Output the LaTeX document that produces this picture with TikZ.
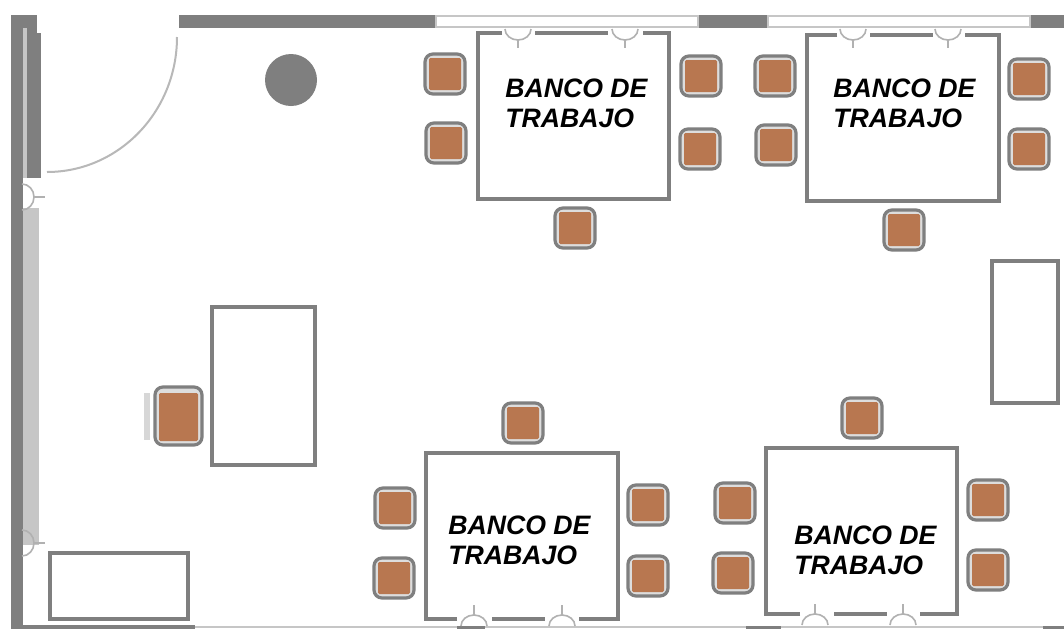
\documentclass[tikz,border=0pt]{standalone}
\usepackage{fontspec}
\setmainfont{Liberation Sans}
\definecolor{wallc}{HTML}{7F7F7F}
\definecolor{lightc}{HTML}{C6C6C6}
\definecolor{brownc}{HTML}{B87750}
\tikzset{
  wallfill/.style={fill=wallc,draw=none},
  glassfill/.style={fill=lightc,draw=none},
  windowbox/.style={fill=white,draw=lightc,line width=1.5},
  furn/.style={draw=wallc,line width=2.6,fill=white},
  benchline/.style={draw=wallc,line width=3.2},
  outlet/.style={draw=lightc!70!wallc,line width=1.2},
  seatouter/.style={draw=wallc,line width=2.4,fill=lightc!60!white,rounded corners=6},
  seatinner/.style={fill=brownc,draw=none,rounded corners=1},
  bancotext/.style={font=\bfseries\itshape\fontsize{20}{22.5}\selectfont,align=left,anchor=west,inner sep=0pt,text=black}
}
\newcommand{\seat}[2]{%
  \draw[seatouter] (#1-20,#2-20) rectangle (#1+20,#2+20);
  \fill[seatinner] (#1-16,#2-16) rectangle (#1+16,#2+16);}
\newcommand{\outdown}[2]{%
  \draw[outlet] (#1-13,#2) arc[start angle=180,end angle=360,x radius=13,y radius=-11];
  \draw[outlet] (#1,#2+11) -- (#1,#2+19);}
\newcommand{\outup}[2]{%
  \draw[outlet] (#1-13,#2) arc[start angle=180,end angle=0,x radius=13,y radius=-11];
  \draw[outlet] (#1,#2-11) -- (#1,#2-21);}
\newcommand{\outright}[2]{%
  \draw[outlet] (#1,#2-13) arc[start angle=90,end angle=-90,x radius=12,y radius=-13];
  \draw[outlet] (#1+12,#2) -- (#1+23,#2);}
\begin{document}
\begin{tikzpicture}[x=0.75pt,y=-0.75pt]
\useasboundingbox (0,0) rectangle (1064,629);
\fill[white] (0,0) rectangle (1064,629);
% left wall
\fill[wallfill] (11,15) rectangle (23,629);
\fill[wallfill] (11,15) rectangle (37,28);
\fill[wallfill] (27,33) rectangle (41,178);
\fill[wallfill] (27,28) rectangle (37,33);
\fill[glassfill] (23,28) rectangle (27,178);
\fill[glassfill] (23,208) rectangle (39,545);
% top wall
\fill[wallfill] (179,15) rectangle (1064,28);
\draw[windowbox] (436,16) rectangle (698,27);
\draw[windowbox] (768,16) rectangle (1030,27);
% bottom wall
\draw[lightc,line width=1.5] (195,627) -- (1064,627);
\fill[wallfill] (11,625) rectangle (195,629);
\fill[wallfill] (457,626) rectangle (485,629);
\fill[wallfill] (746,626) rectangle (781,629);
\fill[wallfill] (1043,626) rectangle (1064,629);
% door swing
\draw[lightc!80!wallc,line width=1.5] (177,37) arc[start angle=0,end angle=90,x radius=130,y radius=135];
% column
\fill[wallc] (291,80) circle[radius=26];
% plain tables
\draw[furn] (212,307) rectangle (315,465);
\draw[furn] (992,261) rectangle (1058,403);
\draw[furn] (50,553) rectangle (188,619);
% benches
\draw[benchline] (502,33) -- (478,33) -- (478,199) -- (669,199) -- (669,33) -- (643,33);
\draw[benchline] (535,33) -- (608,33);
\draw[benchline] (837,35) -- (807,35) -- (807,201) -- (999,201) -- (999,35) -- (965,35);
\draw[benchline] (870,35) -- (933,35);
\draw[benchline] (457,619) -- (426,619) -- (426,453) -- (618,453) -- (618,619) -- (579,619);
\draw[benchline] (492,619) -- (545,619);
\draw[benchline] (800,614) -- (766,614) -- (766,448) -- (957,448) -- (957,614) -- (920,614);
\draw[benchline] (834,614) -- (887,614);
% outlets
\outdown{518}{29}\outdown{625}{29}\outdown{853}{29}\outdown{948}{29}
\outup{474}{626}\outup{562}{626}\outup{815}{625}\outup{903}{625}
\outright{22}{197}\outright{22}{543}
% seats
\seat{445}{74}\seat{446}{143}\seat{701}{76}\seat{700}{149}\seat{575}{228}
\seat{775}{76}\seat{776}{145}\seat{1029}{79}\seat{1029}{149}\seat{904}{230}
\seat{523}{423}\seat{395}{508}\seat{394}{578}\seat{648}{505}\seat{648}{576}
\seat{862}{418}\seat{735}{503}\seat{733}{573}\seat{988}{500}\seat{988}{570}
% desk chair
\fill[lightc!70!white] (144,393) rectangle (150,440);
\draw[seatouter] (155,387) rectangle (202,445);
\fill[seatinner] (159,393) rectangle (198,441);
% labels
\node[bancotext] (b1) at (505,103) {BANCO DE\\TRABAJO};
\node[bancotext] (b2) at (833,103) {BANCO DE\\TRABAJO};
\node[bancotext] (b3) at (448,540) {BANCO DE\\TRABAJO};
\node[bancotext] (b4) at (794,550) {BANCO DE\\TRABAJO};
\end{tikzpicture}
\end{document}
